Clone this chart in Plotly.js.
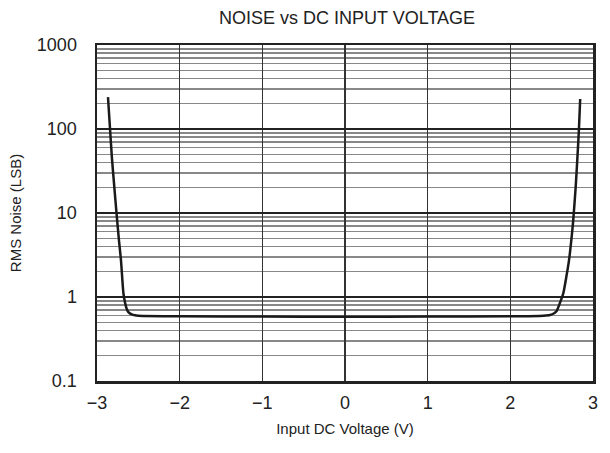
<!DOCTYPE html>
<html><head><meta charset="utf-8">
<script src="https://cdn.plot.ly/plotly-3.0.1.min.js"></script>
<style>html,body{margin:0;padding:0;background:#fff;}</style>
</head><body>
<div id="chart" style="width:610px;height:453px;"></div>
<script>
const voltage = [-2.867, -2.845, -2.82, -2.79, -2.76, -2.735, -2.71, -2.68, -2.66, -2.64, -2.62, -2.58, -2.54, -2.5, -2.0, -1.0, 0.0, 1.0, 2.0, 2.4, 2.48, 2.53, 2.56, 2.6, 2.64, 2.68, 2.71, 2.74, 2.76, 2.79, 2.81, 2.83, 2.845];
const rmsNoise = [240, 110, 46, 20, 9, 4.8, 2.75, 1.1, 0.85, 0.72, 0.66, 0.62, 0.605, 0.6, 0.59, 0.585, 0.58, 0.585, 0.59, 0.6, 0.61, 0.64, 0.68, 0.85, 1.1, 1.8, 2.75, 5, 8, 20, 43, 100, 228];
const xTicks = [-3, -2, -1, 0, 1, 2, 3];
const xTickLabels = ['\u22123', '\u22122', '\u22121', '0', '1', '2', '3'];
const yTicks = [0.1, 1, 10, 100, 1000];
const yTickLabels = ['0.1', '1', '10', '100', '1000'];

const fam = 'Liberation Sans, Arial, sans-serif';
const tickFont = {family: fam, size: 18, color: '#222'};
const axTitleFont = {family: fam, size: 15, color: '#222'};
Plotly.newPlot('chart', [{
  x: voltage, y: rmsNoise, type: 'scatter', mode: 'lines',
  line: {color: '#1a1a1a', width: 2.5, shape: 'spline', smoothing: 0.6},
  hoverinfo: 'skip'
}], {
  width: 610, height: 453,
  margin: {l: 97, r: 17, t: 45, b: 72},
  paper_bgcolor: '#fff', plot_bgcolor: '#fff',
  font: tickFont,
  showlegend: false,
  title: {text: 'NOISE vs DC INPUT VOLTAGE', x: 0.569, xanchor: 'center', y: 0.96, yanchor: 'middle', font: {family: fam, size: 18, color: '#222'}},
  xaxis: {
    range: [-3, 3], tickvals: xTicks, ticktext: xTickLabels,
    showgrid: true, gridcolor: '#333', gridwidth: 1.3,
    showline: true, linecolor: '#222', linewidth: 2.5, mirror: true,
    ticks: '', zeroline: false, tickfont: tickFont, ticklabelstandoff: 4,
    title: {text: 'Input DC Voltage (V)', font: axTitleFont, standoff: 12}
  },
  yaxis: {
    type: 'log', range: [-1, 3], tickvals: yTicks, ticktext: yTickLabels,
    showgrid: true, gridcolor: '#222', gridwidth: 2,
    minor: {dtick: 'D1', showgrid: true, gridcolor: '#888', gridwidth: 1.5, ticks: ''},
    showline: true, linecolor: '#222', linewidth: 2.5, mirror: true,
    ticks: '', zeroline: false, tickfont: tickFont, ticklabelstandoff: 14,
    title: {text: 'RMS Noise (LSB)', font: axTitleFont, standoff: 12}
  }
}, {staticPlot: true});
</script>
</body></html>
